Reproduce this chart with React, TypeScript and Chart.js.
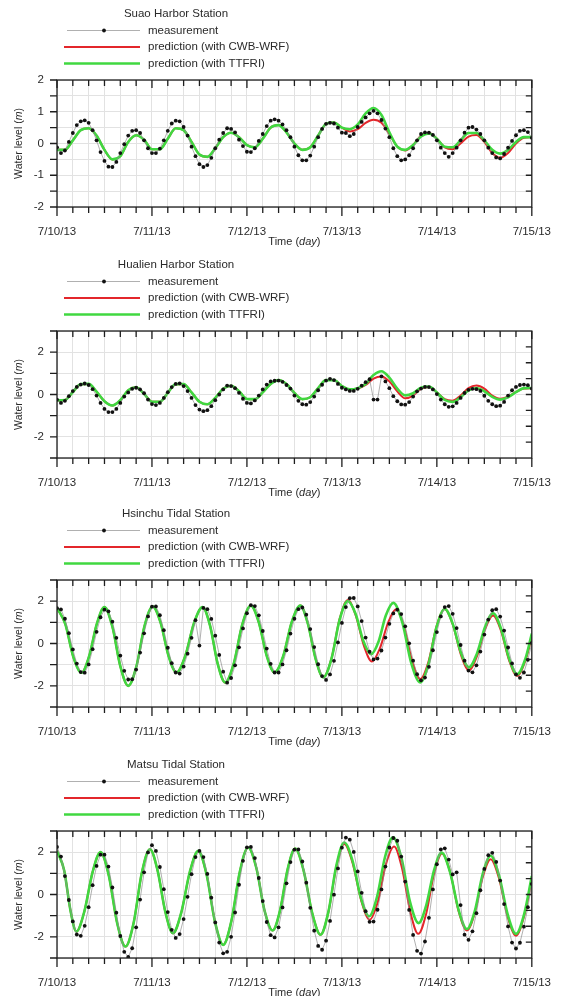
import React, { useEffect, useRef } from 'react';
import { Chart, registerables } from 'chart.js';

Chart.register(...registerables);

type Pt = [number, number];

// ---------- text ----------
const dayLabels = ['7/10/13', '7/11/13', '7/12/13', '7/13/13', '7/14/13', '7/15/13'];
const stationNames = ['Suao Harbor Station', 'Hualien Harbor Station', 'Hsinchu Tidal Station', 'Matsu Tidal Station'];
const measurementLabel = 'measurement';
const cwbLabel = 'prediction (with CWB-WRF)';
const ttfriLabel = 'prediction (with TTFRI)';

// ---------- axes ----------
const yMins = [-2, -3, -3, -3];
const yMaxs = [2, 3, 3, 3];
const yTickSteps = [0.5, 1, 1, 1];
const yLabelSteps = [1, 2, 2, 2];
const mirrorMin = -2;
const mirrorMax = 2;
const mirrorStep = 0.5;
const hourTickStep = 4;
const hoursPerDay = 24;
const totalHours = 120;

// ---------- measurements (hourly from 7/10/13 00:00) ----------
const suaoMeasured = [
  -0.12, -0.3, -0.22, 0.05, 0.33, 0.58, 0.7, 0.73, 0.65, 0.42,
  0.1, -0.27, -0.55, -0.73, -0.74, -0.58, -0.3, -0.02, 0.25, 0.4,
  0.42, 0.33, 0.1, -0.15, -0.3, -0.3, -0.16, 0.1, 0.4, 0.63,
  0.72, 0.7, 0.52, 0.25, -0.1, -0.4, -0.65, -0.74, -0.68, -0.45,
  -0.15, 0.12, 0.33, 0.48, 0.46, 0.35, 0.12, -0.08, -0.26, -0.27,
  -0.15, 0.08, 0.3, 0.55, 0.72, 0.76, 0.72, 0.6, 0.42, 0.2,
  -0.1, -0.37, -0.53, -0.53, -0.38, -0.1, 0.2, 0.46, 0.62, 0.65,
  0.63, 0.5, 0.34, 0.33, 0.23, 0.3, 0.52, 0.68, 0.82, 0.95,
  1.03, 0.95, 0.74, 0.47, 0.2, -0.15, -0.4, -0.53, -0.5, -0.37,
  -0.15, 0.1, 0.3, 0.35, 0.34, 0.27, 0.1, -0.13, -0.3, -0.42,
  -0.3, -0.13, 0.1, 0.34, 0.5, 0.52, 0.44, 0.3, 0.1, -0.13,
  -0.3, -0.44, -0.47, -0.33, -0.13, 0.08, 0.26, 0.4, 0.42, 0.36,
  0.18,
];
const hualienMeasured = [
  -0.24, -0.4, -0.3, -0.08, 0.16, 0.36, 0.47, 0.52, 0.45, 0.25,
  -0.05, -0.4, -0.68, -0.83, -0.83, -0.68, -0.4, -0.1, 0.1, 0.27,
  0.32, 0.24, 0.06, -0.24, -0.45, -0.5, -0.4, -0.16, 0.11, 0.35,
  0.5, 0.53, 0.4, 0.16, -0.16, -0.5, -0.71, -0.79, -0.74, -0.55,
  -0.27, 0, 0.24, 0.42, 0.4, 0.3, 0.08, -0.2, -0.4, -0.42,
  -0.28, -0.05, 0.24, 0.47, 0.62, 0.65, 0.66, 0.6, 0.45, 0.28,
  -0.05, -0.3, -0.46, -0.48, -0.36, -0.1, 0.2, 0.46, 0.66, 0.74,
  0.68, 0.5, 0.32, 0.24, 0.17, 0.17, 0.27, 0.42, 0.58, 0.72,
  -0.24, -0.24, 0.86, 0.62, 0.3, -0.08, -0.32, -0.47, -0.48, -0.36,
  -0.1, 0.15, 0.28, 0.36, 0.35, 0.24, 0.02, -0.24, -0.46, -0.58,
  -0.56, -0.4, -0.16, 0.07, 0.22, 0.27, 0.25, 0.17, -0.06, -0.3,
  -0.46, -0.55, -0.53, -0.35, -0.05, 0.2, 0.36, 0.45, 0.47, 0.44,
  0.28,
];
const hsinchuMeasured = [
  1.67, 1.61, 1.17, 0.49, -0.28, -0.95, -1.35, -1.38, -0.99, -0.27,
  0.55, 1.24, 1.6, 1.52, 1.03, 0.27, -0.57, -1.29, -1.7, -1.69,
  -1.23, -0.43, 0.48, 1.28, 1.74, 1.75, 1.34, 0.63, -0.2, -0.93,
  -1.37, -1.42, -1.09, -0.48, 0.27, 1.1, -0.1, 1.68, 1.62, 1.16,
  0.37, -0.54, -1.33, -1.85, -1.63, -1.03, -0.18, 0.71, 1.43, 1.81,
  1.77, 1.33, 0.59, -0.24, -0.96, -1.37, -1.37, -0.99, -0.32, 0.47,
  1.17, 1.62, 1.7, 1.36, 0.68, -0.17, -0.98, -1.54, -1.72, -1.46,
  -0.82, 0.05, 0.97, 1.72, 2.14, 2.15, 1.75, 1.06, 0.28, -0.39,
  -0.75, -0.71, -0.33, 0.28, 0.93, 1.42, 1.6, 1.39, 0.81, 0.01,
  -0.81, -1.45, -1.74, -1.61, -1.1, -0.32, 0.54, 1.28, 1.72, 1.77,
  1.4, 0.73, -0.07, -0.81, -1.28, -1.36, -1.03, -0.38, 0.42, 1.13,
  1.57, 1.62, 1.27, 0.61, -0.19, -0.94, -1.46, -1.62, -1.37, -0.77,
  0.03,
];
const matsuMeasured = [
  2.25, 1.79, 0.87, -0.26, -1.27, -1.89, -1.95, -1.48, -0.6, 0.44,
  1.35, 1.88, 1.88, 1.32, 0.33, -0.86, -1.96, -2.71, -2.95, -2.54,
  -1.55, -0.24, 1.05, 1.99, 2.33, 2.06, 1.3, 0.25, -0.83, -1.67,
  -2.05, -1.87, -1.16, -0.11, 0.96, 1.77, 2.06, 1.77, 0.97, -0.15,
  -1.32, -2.27, -2.78, -2.71, -2.0, -0.85, 0.46, 1.59, 2.23, 2.25,
  1.72, 0.78, -0.31, -1.3, -1.92, -2.03, -1.55, -0.61, 0.53, 1.53,
  2.12, 2.13, 1.56, 0.56, -0.63, -1.71, -2.43, -2.61, -2.18, -1.25,
  -0.01, 1.23, 2.21, 2.69, 2.59, 2.01, 1.09, 0.08, -0.79, -1.29,
  -1.28, -0.72, 0.24, 1.32, 2.22, 2.67, 2.54, 1.79, 0.61, -0.73,
  -1.91, -2.66, -2.79, -2.22, -1.1, 0.24, 1.43, 2.13, 2.18, 1.65,
  0.95, 1.05, -0.5, -1.9, -2.14, -1.74, -0.88, 0.2, 1.21, 1.86,
  1.97, 1.54, 0.66, -0.45, -1.51, -2.27, -2.55, -2.28, -1.52, -0.6,
  0.5,
];

// ---------- predictions ----------
// Suao / Hualien: every 2 hours; identical for both models until 7/13 00:00
const suaoPredShared = [
  -0.2, -0.2, 0.1, 0.42, 0.48, 0.25, -0.2, -0.5, -0.4, 0.05, 0.26, 0.12, -0.18,
  -0.18, 0.15, 0.48, 0.42, 0.05, -0.35, -0.42, -0.15, 0.2, 0.34, 0.2, -0.05,
  -0.12, 0.15, 0.5, 0.58, 0.35, 0.0, -0.2, -0.12, 0.25, 0.62, 0.66, 0.5,
];
const suaoTtfriTail = [
  0.45, 0.6, 0.95, 1.12, 0.9, 0.35, -0.1, -0.2, -0.05, 0.22, 0.32, 0.15,
  -0.1, -0.12, 0.1, 0.33, 0.33, 0.1, -0.2, -0.32, -0.2, 0.05, 0.2, 0.2,
];
const suaoCwbTail = [
  0.38, 0.45, 0.65, 0.75, 0.65, 0.3, -0.1, -0.22, -0.05, 0.25, 0.33, 0.15,
  -0.12, -0.18, 0.0, 0.22, 0.27, 0.05, -0.3, -0.45, -0.3, 0.0, 0.18, 0.2,
];
const hualienPredShared = [
  -0.28, -0.26, 0.12, 0.49, 0.5, 0.13, -0.32, -0.52, -0.27, 0.2, 0.34, 0.03, -0.34,
  -0.34, 0.08, 0.49, 0.49, 0.1, -0.34, -0.46, -0.16, 0.27, 0.41, 0.15, -0.21,
  -0.22, 0.1, 0.5, 0.68, 0.49, 0.07, -0.22, -0.13, 0.3, 0.68, 0.68, 0.4,
];
const hualienTtfriTail = [
  0.24, 0.3, 0.5, 0.92, 1.1, 0.8, 0.28, -0.04, 0.06, 0.32, 0.37, 0.09,
  -0.26, -0.35, -0.13, 0.19, 0.31, 0.15, -0.11, -0.24, -0.13, 0.11, 0.3, 0.31,
];
const hualienCwbTail = [
  0.24, 0.28, 0.45, 0.75, 0.85, 0.62, 0.15, -0.18, -0.05, 0.28, 0.36, 0.1,
  -0.22, -0.29, -0.05, 0.3, 0.42, 0.28, -0.05, -0.2, -0.1, 0.12, 0.28, 0.3,
];
// Hsinchu / Matsu: [hour, level] read at the turning points and between them
const hsinchuPredShared: Pt[] = [
  [0, 1.68], [2.1, 0.92], [4.1, -0.62], [6.2, -1.38], [8.1, -0.61], [10.1, 0.95], [12, 1.72],
  [14, 0.79], [16, -1.07], [18, -2.0], [20.1, -1.06], [22.1, 0.81], [24.2, 1.75], [26.2, 0.97],
  [28.2, -0.59], [30.2, -1.37], [32.4, -0.6], [34.6, 0.95], [36.8, 1.72], [38.7, 0.83], [40.6, -0.95],
  [42.5, -1.84], [44.7, -0.93], [46.8, 0.88], [49, 1.79], [51, 1.0], [53, -0.58], [55, -1.37],
  [57.2, -0.58], [59.3, 1.0], [61.5, 1.79], [63.4, 0.94], [65.4, -0.75], [67.3, -1.6],
];
const hsinchuTtfriTail: Pt[] = [
  [69.4, -0.7], [71.4, 1.1], [73.5, 2.0], [75.5, 1.38], [77.4, 0.13], [79.4, -0.5], [81.3, 0.11],
  [83.1, 1.32], [85, 1.92], [87.3, 0.98], [89.5, -0.9], [91.8, -1.84], [93.9, -0.97], [95.9, 0.76],
  [98, 1.63], [100, 0.94], [102.1, -0.44], [104.1, -1.13], [106.1, -0.49], [108.2, 0.79], [110.2, 1.43],
  [112.2, 0.71], [114.3, -0.73], [116.3, -1.45], [118.4, -0.71], [120, 0.47],
];
const hsinchuCwbTail: Pt[] = [
  [69.4, -0.69], [71.4, 1.14], [73.5, 2.05], [75.5, 1.33], [77.6, -0.13], [79.6, -0.85], [81.6, -0.23],
  [83.7, 1.0], [85.7, 1.62], [87.7, 0.8], [89.8, -0.86], [91.8, -1.68], [93.9, -0.85], [95.9, 0.8],
  [98, 1.63], [100, 0.91], [102.1, -0.54], [104.1, -1.26], [106.1, -0.62], [108.2, 0.68], [110.2, 1.32],
  [112.2, 0.61], [114.3, -0.82], [116.3, -1.53], [118.4, -0.8], [120, 0.3],
];
const matsuPredShared: Pt[] = [
  [0, 2.06], [1.8, 1.15], [3.4, -0.75], [4.9, -1.75], [6.9, -0.81], [9, 1.06], [11, 2.0],
  [13.1, 0.89], [15.2, -1.35], [17.3, -2.46], [19.4, -1.31], [21.4, 0.99], [23.5, 2.14], [25.4, 1.15],
  [27.4, -0.84], [29.3, -1.83], [31.4, -0.86], [33.6, 1.09], [35.7, 2.06], [37.8, 0.95], [39.9, -1.27],
  [42, -2.38], [44.1, -1.23], [46.2, 1.07], [48.3, 2.22], [50.4, 1.24], [52.4, -0.72], [54.5, -1.7],
  [56.4, -0.73], [58.3, 1.2], [60.2, 2.17], [62.3, 1.15], [64.5, -0.88], [66.6, -1.9],
];
const matsuTtfriTail: Pt[] = [
  [68.6, -0.81], [70.6, 1.37], [72.6, 2.46], [74.7, 1.59], [76.8, -0.16], [78.9, -1.03], [80.9, -0.1],
  [82.9, 1.77], [84.9, 2.7], [87.1, 1.69], [89.2, -0.34], [91.4, -1.35], [93.3, -0.52], [95.3, 1.15],
  [97.2, 1.98], [99.3, 1.08], [101.5, -0.73], [103.6, -1.63], [105.6, -0.77], [107.6, 0.97], [109.6, 1.83],
  [111.7, 0.91], [113.9, -0.94], [116, -1.86], [118.1, -0.9], [120, 0.87],
];
const matsuCwbTail: Pt[] = [
  [68.6, -0.83], [70.6, 1.31], [72.6, 2.38], [74.7, 1.49], [76.9, -0.3], [79, -1.19], [81.1, -0.33],
  [83.1, 1.41], [85.2, 2.27], [87.2, 1.24], [89.3, -0.83], [91.3, -1.86], [93.3, -0.91], [95.3, 0.99],
  [97.3, 1.94], [99.4, 1.03], [101.5, -0.79], [103.6, -1.7], [105.6, -0.86], [107.6, 0.83], [109.6, 1.67],
  [111.7, 0.77], [113.9, -1.05], [116, -1.95], [118.1, -0.99], [120, 0.7],
];

// ---------- helpers to build chart data ----------
const hourly = (values: number[]) => values.map((v, i) => ({ x: i, y: v }));
const everyTwoHours = (values: number[], startHour: number) =>
  values.map((v, i) => ({ x: startHour + 2 * i, y: v }));
const fromPairs = (pairs: Pt[]) => pairs.map(([x, y]) => ({ x, y }));

const panelData = [
  {
    measured: hourly(suaoMeasured),
    cwb: [...everyTwoHours(suaoPredShared, 0), ...everyTwoHours(suaoCwbTail, 74)],
    ttfri: [...everyTwoHours(suaoPredShared, 0), ...everyTwoHours(suaoTtfriTail, 74)],
  },
  {
    measured: hourly(hualienMeasured),
    cwb: [...everyTwoHours(hualienPredShared, 0), ...everyTwoHours(hualienCwbTail, 74)],
    ttfri: [...everyTwoHours(hualienPredShared, 0), ...everyTwoHours(hualienTtfriTail, 74)],
  },
  {
    measured: hourly(hsinchuMeasured),
    cwb: fromPairs([...hsinchuPredShared, ...hsinchuCwbTail]),
    ttfri: fromPairs([...hsinchuPredShared, ...hsinchuTtfriTail]),
  },
  {
    measured: hourly(matsuMeasured),
    cwb: fromPairs([...matsuPredShared, ...matsuCwbTail]),
    ttfri: fromPairs([...matsuPredShared, ...matsuTtfriTail]),
  },
];

// ---------- layout / style ----------
const WIDTH = 569;
const panelHeights = [251, 249, 251, 245];
const FRAME_TOP = 80;
const FRAME_BOTTOM = 207;
const FRAME_LEFT = 57;
const FRAME_RIGHT_PAD = 28;
const FONT = '"Liberation Sans", Arial, Helvetica, sans-serif';
const TEXT = '#2a2a2a';
const AXIS = '#1e1e1e';
const GRID = '#e2e2e2';
const RED = '#e3262b';
const GREEN = '#40d840';

const drawMixed = (ctx: CanvasRenderingContext2D, parts: [string, boolean][], cx: number, cy: number, size: number) => {
  let total = 0;
  const widths = parts.map(([t, it]) => {
    ctx.font = `${it ? 'italic ' : ''}${size}px ${FONT}`;
    const w = ctx.measureText(t).width;
    total += w;
    return w;
  });
  let x = cx - total / 2;
  ctx.textAlign = 'left';
  ctx.textBaseline = 'middle';
  parts.forEach(([t, it], i) => {
    ctx.font = `${it ? 'italic ' : ''}${size}px ${FONT}`;
    ctx.fillText(t, x, cy);
    x += widths[i];
  });
};

const framePlugin = {
  id: 'frame',
  afterDraw(chart: any, _args: any, opts: any) {
    const { ctx, chartArea: a, scales } = chart;
    const xs = scales.x;
    const ys = scales.y;
    const y2 = scales.y2;
    ctx.save();

    // frame
    ctx.strokeStyle = AXIS;
    ctx.lineWidth = 1.3;
    ctx.strokeRect(a.left, a.top, a.right - a.left, a.bottom - a.top);

    // ticks
    ctx.beginPath();
    ctx.lineWidth = 1.3;
    xs.ticks.forEach((t: any) => {
      const px = xs.getPixelForValue(t.value);
      const major = t.value % hoursPerDay === 0;
      ctx.moveTo(px, a.bottom);
      ctx.lineTo(px, a.bottom + (major ? 9 : 6));
      ctx.moveTo(px, a.top);
      ctx.lineTo(px, a.top + (major ? 8 : 6));
    });
    ys.ticks.forEach((t: any) => {
      const py = ys.getPixelForValue(t.value);
      ctx.moveTo(a.left - 7, py);
      ctx.lineTo(a.left, py);
    });
    y2.ticks.forEach((t: any) => {
      if (t.value <= y2.min || t.value >= y2.max) return;
      const py = y2.getPixelForValue(t.value);
      ctx.moveTo(a.right, py);
      ctx.lineTo(a.right - 6, py);
    });
    ctx.stroke();

    // station title
    ctx.fillStyle = TEXT;
    ctx.font = `11.5px ${FONT}`;
    ctx.textAlign = 'center';
    ctx.textBaseline = 'middle';
    ctx.fillText(opts.title, 176, 14);

    // legend (measurement, CWB-WRF, TTFRI)
    const rowY = [30.5, 47, 63.5];
    chart.data.datasets.forEach((ds: any, i: number) => {
      const yy = rowY[i];
      ctx.beginPath();
      ctx.strokeStyle = ds.borderColor;
      ctx.lineWidth = ds.borderWidth;
      ctx.moveTo(i === 0 ? 67 : 64, yy);
      ctx.lineTo(140, yy);
      ctx.stroke();
      if (ds.pointRadius > 0) {
        ctx.beginPath();
        ctx.fillStyle = ds.pointBackgroundColor;
        ctx.arc(104, yy, ds.pointRadius, 0, Math.PI * 2);
        ctx.fill();
      }
      ctx.fillStyle = TEXT;
      ctx.font = `11.5px ${FONT}`;
      ctx.textAlign = 'left';
      ctx.textBaseline = 'middle';
      ctx.fillText(ds.label, 148, yy);
    });

    // axis titles
    ctx.fillStyle = TEXT;
    drawMixed(ctx, [['Time (', false], ['day', true], [')', false]], (a.left + a.right) / 2, 242, 11);
    ctx.save();
    ctx.translate(19, (a.top + a.bottom) / 2);
    ctx.rotate(-Math.PI / 2);
    drawMixed(ctx, [['Water level (', false], ['m', true], [')', false]], 0, 0, 10.5);
    ctx.restore();

    ctx.restore();
  },
};

function Panel({ index }: { index: number }) {
  const ref = useRef<HTMLCanvasElement | null>(null);
  const height = panelHeights[index];
  useEffect(() => {
    if (!ref.current) return;
    const d = panelData[index];
    const labelStep = yLabelSteps[index];
    const chart = new Chart(ref.current, {
      type: 'line',
      data: {
        datasets: [
          {
            label: measurementLabel,
            data: d.measured,
            borderColor: '#8e8e8e',
            borderWidth: 0.7,
            pointRadius: 1.9,
            pointHoverRadius: 1.9,
            pointBackgroundColor: '#111111',
            pointBorderColor: '#111111',
            pointBorderWidth: 0,
            tension: 0,
            order: 0,
          },
          {
            label: cwbLabel,
            data: d.cwb,
            borderColor: RED,
            borderWidth: 2,
            pointRadius: 0,
            cubicInterpolationMode: 'monotone',
            order: 2,
          },
          {
            label: ttfriLabel,
            data: d.ttfri,
            borderColor: GREEN,
            borderWidth: 2.6,
            pointRadius: 0,
            cubicInterpolationMode: 'monotone',
            order: 1,
          },
        ] as any,
      },
      options: {
        responsive: false,
        animation: false,
        devicePixelRatio: 1,
        events: [],
        layout: { padding: { left: 0, right: FRAME_RIGHT_PAD, top: FRAME_TOP, bottom: 0 } },
        plugins: {
          legend: { display: false },
          tooltip: { enabled: false },
          title: { display: false },
          frame: { title: stationNames[index] },
        } as any,
        scales: {
          x: {
            type: 'linear',
            position: 'bottom',
            min: 0,
            max: totalHours,
            afterFit: (s: any) => {
              s.height = height - FRAME_BOTTOM;
            },
            grid: { color: GRID, lineWidth: 1, drawTicks: false },
            border: { display: false },
            ticks: {
              stepSize: hourTickStep,
              autoSkip: false,
              maxRotation: 0,
              minRotation: 0,
              padding: 18,
              color: TEXT,
              font: { family: FONT, size: 11.5 },
              callback: (v: any) => (Number(v) % hoursPerDay === 0 ? dayLabels[Number(v) / hoursPerDay] : ''),
            },
          },
          y: {
            type: 'linear',
            position: 'left',
            min: yMins[index],
            max: yMaxs[index],
            afterFit: (s: any) => {
              s.width = FRAME_LEFT;
            },
            grid: { color: GRID, lineWidth: 1, drawTicks: false },
            border: { display: false },
            ticks: {
              stepSize: yTickSteps[index],
              autoSkip: false,
              padding: 13,
              color: TEXT,
              font: { family: FONT, size: 11.5 },
              callback: (v: any) => (Math.abs(Number(v) % labelStep) < 1e-9 ? String(Number(v)) : ''),
            },
          },
          y2: {
            type: 'linear',
            position: 'right',
            min: mirrorMin,
            max: mirrorMax,
            afterFit: (s: any) => {
              s.width = 0;
            },
            grid: { display: false, drawTicks: false },
            border: { display: false },
            ticks: { display: false, stepSize: mirrorStep },
          },
        } as any,
      },
      plugins: [framePlugin as any],
    });
    return () => chart.destroy();
  }, [index, height]);
  return <canvas ref={ref} width={WIDTH} height={height} style={{ display: 'block', width: WIDTH, height }} />;
}

export default function App() {
  return (
    <div style={{ position: 'absolute', left: 0, top: 0, width: WIDTH, background: '#ffffff' }}>
      {stationNames.map((_, i) => (
        <Panel key={i} index={i} />
      ))}
    </div>
  );
}
